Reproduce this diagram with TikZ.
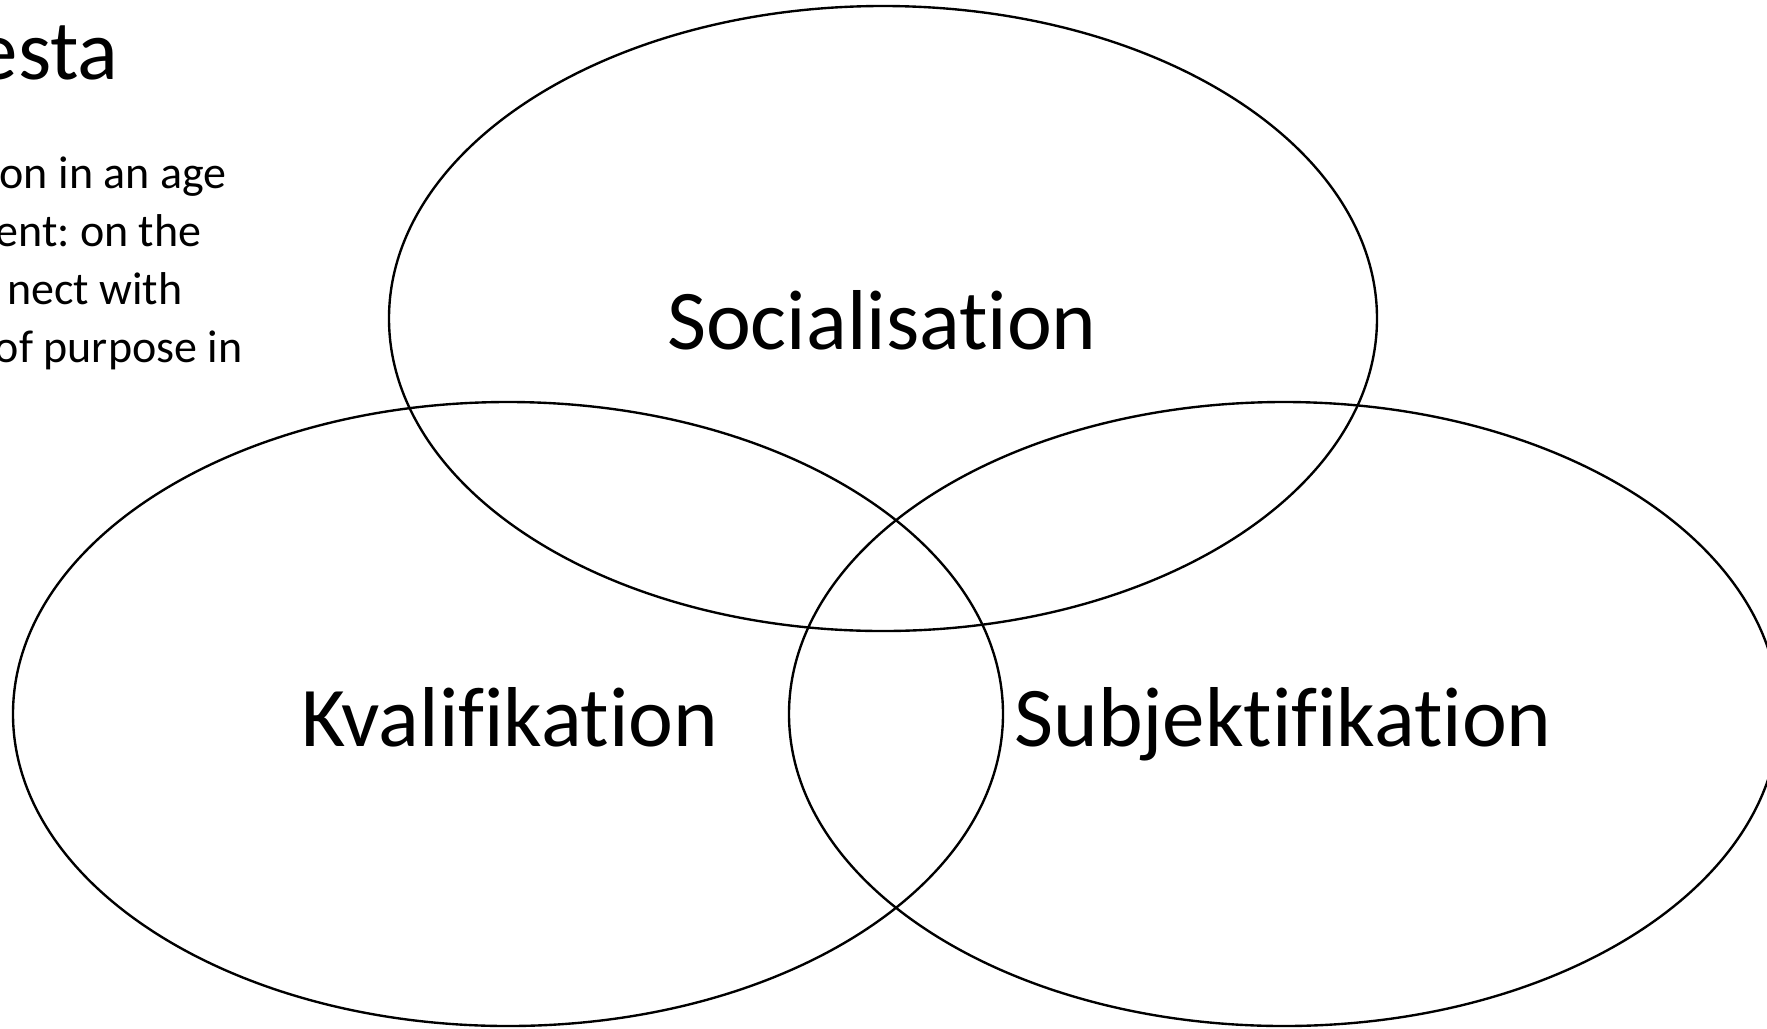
\documentclass[tikz,border=0pt]{standalone}
\usepackage{fontspec}
\setmainfont{Carlito}[RawFeature={-liga;-clig;-dlig;-calt;-rlig}]
\frenchspacing
\begin{document}
\begin{tikzpicture}[x=0.4pt,y=-0.4pt,
  ring/.style={draw=black,line width=0.95pt},
  setname/.style={font=\fontsize{34}{40}\selectfont,inner sep=0pt,anchor=base},
  heading/.style={font=\fontsize{34}{40}\selectfont,inner sep=0pt,anchor=base east},
  bodyline/.style={font=\fontsize{18.4}{22}\selectfont,inner sep=0pt,anchor=base east}]
\useasboundingbox (0,0) rectangle (1767,1028);
\clip (0,0) rectangle (1767,1028);
\fill[white] (0,0) rectangle (1767,1028);

% the three overlapping sets
\draw[ring] (883,318.5) ellipse [x radius=494, y radius=312.5];
\draw[ring] (508,714) ellipse [x radius=495, y radius=312];
\draw[ring] (1284,714) ellipse [x radius=495, y radius=312];

% set names
\node[setname] (soc) at (882,349) {Socialisation};
\node[setname] (kva) at (510,746) {Kvalifikation};
\node[setname] (sub) at (1283,746) {Subjektifikation};

% heading and body text running in from the left edge
\node[heading] (title) at (119,79) {esta};
\node[bodyline] (l1) at (227,188) {on in an age};
\node[bodyline] (l2) at (202,246) {ent: on the};
\node[bodyline] (l3) at (183,304) {nect with};
\node[bodyline] (l4) at (243,362) {of purpose in};
\end{tikzpicture}
\end{document}
